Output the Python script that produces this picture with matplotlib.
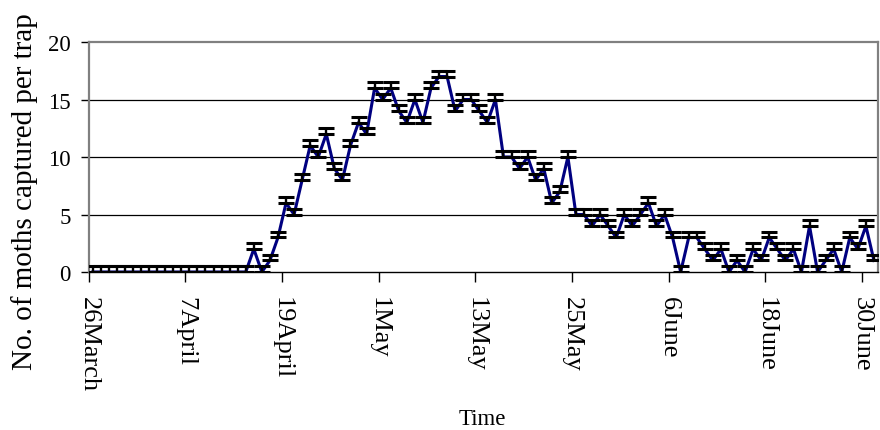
import numpy as np
import matplotlib
matplotlib.use('Agg')
import matplotlib.pyplot as plt

# moths per trap, one value per day from 26 March to 1 July
moths = [0, 0, 0, 0, 0, 0, 0, 0, 0, 0,
         0, 0, 0, 0, 0, 0, 0, 0, 0, 0,
         2, 0, 1, 3, 6, 5, 8, 11, 10, 12,
         9, 8, 11, 13, 12, 16, 15, 16, 14, 13,
         15, 13, 16, 17, 17, 14, 15, 15, 14, 13,
         15, 10, 10, 9, 10, 8, 9, 6, 7, 10,
         5, 5, 4, 5, 4, 3, 5, 4, 5, 6,
         4, 5, 3, 0, 3, 3, 2, 1, 2, 0,
         1, 0, 2, 1, 3, 2, 1, 2, 0, 4,
         0, 1, 2, 0, 3, 2, 4, 1]
err = [0.5] * len(moths)

tick_labels = ['26March', '7April', '19April', '1May', '13May',
               '25May', '6June', '18June', '30June']
tick_days = [0, 12, 24, 36, 48, 60, 72, 84, 96]
y_ticks = [0, 5, 10, 15, 20]

plt.rcParams['font.family'] = ['Liberation Serif', 'DejaVu Serif']

fig = plt.figure(figsize=(8.8, 4.31), dpi=100)
ax = fig.add_axes([0.1008, 0.3666, 0.8969, 0.5336])

x = np.arange(len(moths)) + 0.5
ax.plot(x, moths, color='#000080', lw=2.2, zorder=3)
ax.errorbar(x, moths, yerr=[np.zeros(len(err)), err], fmt='none',
            ecolor='black', elinewidth=1.7, capsize=5.8, capthick=2.2, zorder=4)

ax.set_xlim(0, len(moths))
ax.set_ylim(0, 20)
ax.set_yticks(y_ticks)
ax.set_yticklabels([str(v) for v in y_ticks], fontsize=16.5)
ax.set_xticks(tick_days)
ax.set_xticklabels(tick_labels, rotation=-90, fontsize=19)
ax.tick_params(axis='y', direction='out', length=6, width=1, pad=7)
ax.tick_params(axis='x', direction='out', length=7, width=1, pad=10)

for v in y_ticks[1:-1]:
    ax.axhline(v, color='black', lw=0.9, zorder=1)

for side in ['top', 'right', 'left']:
    ax.spines[side].set_color('#808080')
    ax.spines[side].set_linewidth(1.6)
ax.spines['bottom'].set_color('black')
ax.spines['bottom'].set_linewidth(1.0)

fig.text(482 / 880, 1 - 420 / 431, 'Time', ha='center', va='center', fontsize=16.5)
fig.text(25 / 880, 1 - 192 / 431, 'No. of moths captured per trap', ha='center',
         va='center', rotation=90, fontsize=21)

fig.savefig('out.png', dpi=100)
